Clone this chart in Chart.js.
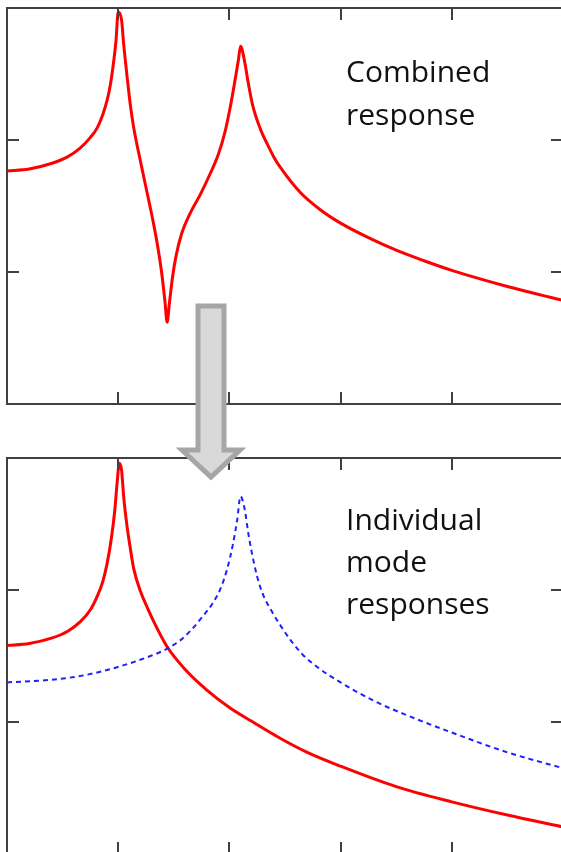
<!DOCTYPE html>
<html>
<head>
<meta charset="utf-8">
<script src="https://cdn.jsdelivr.net/npm/chart.js@4"></script>
<style>
html,body{margin:0;padding:0;background:#fff;overflow:hidden}
body{width:561px;height:852px;position:relative}
canvas{position:absolute;left:0}
#top{top:0}
#bottom{top:450px}
.label{position:absolute;left:346px;font-family:"Open Sans",sans-serif;font-size:30px;line-height:43px;color:#111;white-space:nowrap}
svg{position:absolute;left:0;top:0}
</style>
</head>
<body>

<canvas id="top" width="570" height="412"></canvas>
<canvas id="bottom" width="570" height="412"></canvas>

<div class="label" style="top:49px">Combined<br>response</div>
<div class="label" style="top:498px;line-height:42px">Individual<br>mode<br>responses</div>

<svg width="561" height="852">
<path d="M198,306 L224,306 L224,450 L240,450 L211,477 L182,450 L198,450 Z" fill="#d9d9d9" stroke="#a6a6a6" stroke-width="5"/>
</svg>

<script>

// frequency axis 0..5, response axis 0..3
const xTicks = [1,2,3,4]
const yTicks = [1,2]

// combined response (top)
const combX = [0,0.2,0.39,0.54,0.66,0.75,0.81,0.86,0.9,0.93,0.96,0.98,1.0,1.03,1.05,1.08,1.11,1.14,1.2,1.26,1.31,1.35,1.39,1.42,1.44,1.46,1.49,1.52,1.57,1.65,1.74,1.83,1.9,1.96,2.01,2.05,2.08,2.1,2.14,2.17,2.21,2.28,2.34,2.4,2.46,2.64,2.82,3.0,3.25,3.5,3.75,4.0,4.5,5.0]
const combY = [1.765,1.78,1.82,1.87,1.94,2.02,2.09,2.19,2.30,2.42,2.60,2.75,2.97,2.91,2.72,2.48,2.26,2.09,1.84,1.60,1.40,1.22,1.00,0.78,0.62,0.76,0.97,1.12,1.29,1.45,1.59,1.75,1.89,2.06,2.26,2.45,2.60,2.71,2.58,2.43,2.26,2.08,1.97,1.87,1.79,1.60,1.47,1.37,1.26,1.165,1.085,1.012,0.89,0.785]

// mode 1 (bottom, red)
const mode1X = [0,0.2,0.4,0.55,0.66,0.75,0.81,0.86,0.9,0.94,0.97,0.99,1.01,1.03,1.05,1.08,1.11,1.14,1.2,1.26,1.32,1.44,1.6,1.8,2.0,2.2,2.46,2.7,3.0,3.5,4.0,4.5,5.0]
const mode1Y = [1.58,1.595,1.635,1.69,1.76,1.85,1.95,2.06,2.20,2.40,2.61,2.81,2.96,2.91,2.70,2.48,2.31,2.16,1.99,1.87,1.76,1.57,1.40,1.24,1.11,1.005,0.875,0.77,0.665,0.51,0.395,0.295,0.205]

// mode 2 (bottom, blue dashed)
const mode2X = [0,0.4,0.7,0.99,1.29,1.44,1.56,1.66,1.76,1.85,1.92,1.98,2.03,2.07,2.1,2.14,2.17,2.2,2.25,2.3,2.38,2.46,2.55,2.66,2.8,3.0,3.3,3.6,4.0,4.5,5.0]
const mode2Y = [1.30,1.32,1.355,1.415,1.50,1.555,1.62,1.70,1.80,1.90,2.01,2.16,2.34,2.53,2.71,2.60,2.43,2.29,2.10,1.97,1.84,1.73,1.62,1.51,1.41,1.30,1.16,1.05,0.92,0.77,0.65]

function pts(xs, ys){
return xs.map((x,i)=>({x:x, y:ys[i]}))
}

const frame = {
id:'frame',
afterDraw(chart){
let ctx = chart.ctx
let a = chart.chartArea
let x = chart.scales.x
let y = chart.scales.y
ctx.save()
ctx.strokeStyle = '#404040'
ctx.lineWidth = 2
ctx.strokeRect(a.left, a.top, a.right-a.left, a.bottom-a.top)
ctx.beginPath()
xTicks.forEach(v=>{
let px = Math.round(x.getPixelForValue(v))
ctx.moveTo(px, a.top); ctx.lineTo(px, a.top+12)
ctx.moveTo(px, a.bottom); ctx.lineTo(px, a.bottom-12)
})
yTicks.forEach(v=>{
let py = Math.round(y.getPixelForValue(v))
ctx.moveTo(a.left, py); ctx.lineTo(a.left+12, py)
ctx.moveTo(a.right, py); ctx.lineTo(a.right-12, py)
})
ctx.stroke()
ctx.restore()
}
}

function makeChart(id, datasets){
return new Chart(document.getElementById(id), {
type:'line',
data:{datasets:datasets},
options:{
responsive:false,
animation:false,
layout:{padding:{left:7, top:8, right:7, bottom:8}},
plugins:{legend:{display:false}, tooltip:{enabled:false}},
elements:{point:{radius:0}},
scales:{
x:{type:'linear', min:0, max:5, display:false},
y:{min:0, max:3, display:false}
}
},
plugins:[frame]
})
}

makeChart('top', [{
data:pts(combX, combY),
borderColor:'#ff0000',
borderWidth:3,
cubicInterpolationMode:'monotone'
}])

makeChart('bottom', [{
data:pts(mode2X, mode2Y),
borderColor:'#1f1fff',
borderWidth:2,
borderDash:[5,4],
cubicInterpolationMode:'monotone'
},{
data:pts(mode1X, mode1Y),
borderColor:'#ff0000',
borderWidth:3,
cubicInterpolationMode:'monotone'
}])

</script>
</body>
</html>
